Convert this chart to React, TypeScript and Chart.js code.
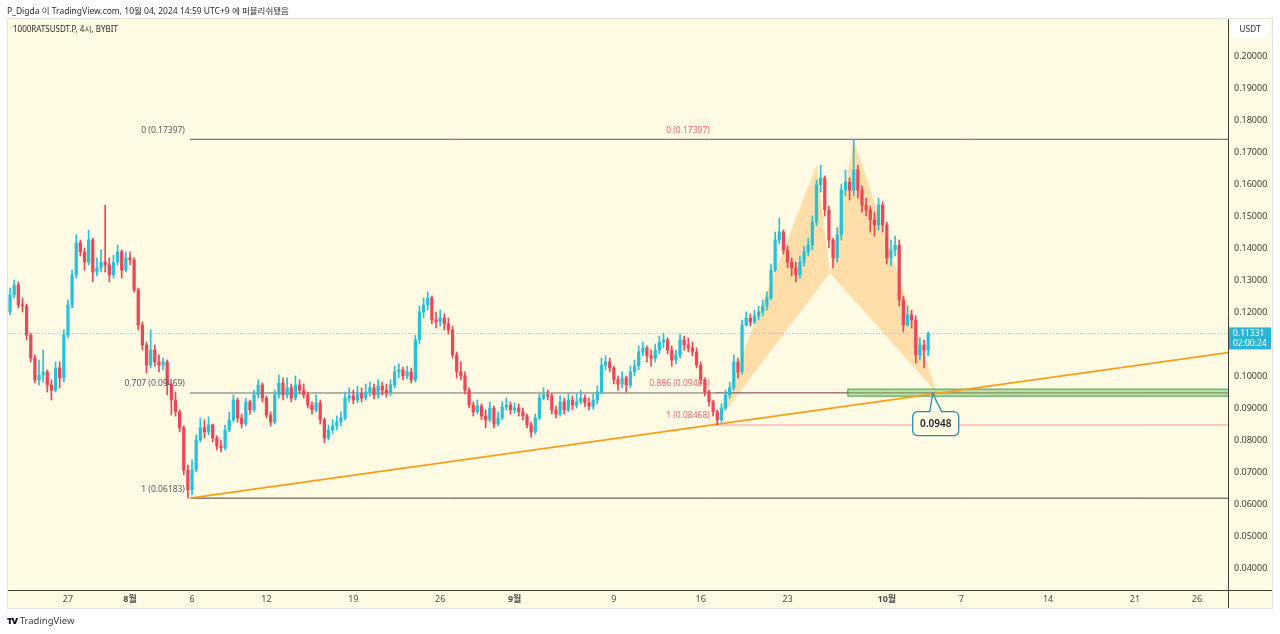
import { useEffect, useRef } from 'react';
import { Chart, registerables } from 'chart.js';

Chart.register(...registerables);

// ---------- data ----------
// x unit: days counted from 2024-08-01 00:00 (UTC+9); one candle = 8 hours
const firstCandleDay = -9.667;
const candleStepDays = 1 / 3;
const firstOpen = 0.12;

const closes = [
  0.1253, 0.1284, 0.1222, 0.1219, 0.1128, 0.1056, 0.0988, 0.1003, 0.1013, 0.0972,
  0.0956, 0.1025, 0.0994, 0.1128, 0.1222, 0.1316, 0.1416, 0.1388, 0.1356, 0.1425,
  0.1325, 0.1338, 0.1356, 0.1347, 0.1316, 0.1356, 0.1388, 0.1331, 0.1369, 0.1363,
  0.1269, 0.1159, 0.1097, 0.1034, 0.1081, 0.1044, 0.1034, 0.1044, 0.0972, 0.0925,
  0.0888, 0.0838, 0.0706, 0.0644, 0.0706, 0.08, 0.0838, 0.0825, 0.0847, 0.0806,
  0.0781, 0.0775, 0.0831, 0.0863, 0.0925, 0.0869, 0.085, 0.0919, 0.0894, 0.0941,
  0.0972, 0.0931, 0.0878, 0.0856, 0.0941, 0.0978, 0.0941, 0.0963, 0.0931, 0.0972,
  0.0956, 0.0941, 0.0909, 0.0894, 0.0916, 0.0863, 0.0806, 0.0831, 0.0844, 0.0856,
  0.0869, 0.0931, 0.0938, 0.0925, 0.0944, 0.0931, 0.095, 0.0963, 0.0941, 0.0969,
  0.0956, 0.0947, 0.0972, 0.1013, 0.1019, 0.1, 0.1013, 0.0988, 0.1113, 0.12,
  0.1222, 0.1244, 0.1175, 0.1169, 0.1181, 0.1163, 0.1144, 0.1066, 0.1013, 0.1,
  0.0956, 0.0909, 0.0888, 0.0906, 0.0875, 0.0863, 0.09, 0.085, 0.0869, 0.0903,
  0.0909, 0.0894, 0.09, 0.0888, 0.0875, 0.0847, 0.0825, 0.0869, 0.0931, 0.0941,
  0.0938, 0.0894, 0.0881, 0.0919, 0.0894, 0.0925, 0.0909, 0.0919, 0.0931, 0.0916,
  0.0906, 0.0925, 0.095, 0.1034, 0.1044, 0.1025, 0.0988, 0.0975, 0.0994, 0.0972,
  0.1013, 0.1031, 0.1075, 0.1088, 0.1063, 0.1056, 0.1081, 0.1106, 0.1113, 0.1081,
  0.105, 0.1066, 0.1113, 0.1097, 0.1088, 0.1075, 0.1034, 0.0988, 0.095, 0.0919,
  0.0888, 0.0863, 0.09, 0.0941, 0.0963, 0.1044, 0.1013, 0.1159, 0.1181, 0.1169,
  0.1188, 0.12, 0.1219, 0.1244, 0.1331, 0.1425, 0.145, 0.1394, 0.1356, 0.1338,
  0.1316, 0.1356, 0.1388, 0.1409, 0.1481, 0.1597, 0.1619, 0.1519, 0.1425, 0.1369,
  0.1441, 0.1581, 0.1606, 0.1581, 0.1644, 0.1581, 0.1534, 0.1519, 0.1488, 0.1472,
  0.1534, 0.1472, 0.1369, 0.1394, 0.1409, 0.1238, 0.1159, 0.1191, 0.1175, 0.1066,
  0.1097, 0.1081, 0.11331,
];

const highs = [
  0.1275, 0.13, 0.1294, 0.1244, 0.1225, 0.1134, 0.1066, 0.105, 0.1081, 0.1019,
  0.0988, 0.1044, 0.1044, 0.1144, 0.1238, 0.1331, 0.1441, 0.1425, 0.14, 0.1456,
  0.1431, 0.1369, 0.1394, 0.1534, 0.1369, 0.1378, 0.1409, 0.1394, 0.1388, 0.1388,
  0.1369, 0.1275, 0.1169, 0.1106, 0.1144, 0.1097, 0.1066, 0.1056, 0.105, 0.0978,
  0.095, 0.0894, 0.0844, 0.0722, 0.0738, 0.0816, 0.0869, 0.0863, 0.0872, 0.085,
  0.0813, 0.08, 0.0847, 0.0888, 0.0941, 0.0931, 0.0881, 0.0931, 0.0925, 0.0956,
  0.0988, 0.0978, 0.0938, 0.0888, 0.0956, 0.1003, 0.0994, 0.0994, 0.0975, 0.1,
  0.0988, 0.0975, 0.095, 0.0919, 0.0941, 0.0925, 0.0869, 0.0847, 0.0863, 0.0875,
  0.0888, 0.095, 0.0963, 0.0956, 0.0969, 0.0963, 0.0975, 0.0981, 0.0975, 0.0988,
  0.0981, 0.0975, 0.0988, 0.1031, 0.1038, 0.1028, 0.1031, 0.1025, 0.1128, 0.1219,
  0.1244, 0.1263, 0.125, 0.12, 0.1206, 0.1194, 0.1181, 0.1156, 0.1075, 0.1044,
  0.1013, 0.0963, 0.0919, 0.0925, 0.0913, 0.0894, 0.0919, 0.0906, 0.0888, 0.0919,
  0.0931, 0.0919, 0.0916, 0.0913, 0.09, 0.0881, 0.0856, 0.0881, 0.0944, 0.0963,
  0.0956, 0.0944, 0.0906, 0.0938, 0.0931, 0.0944, 0.0938, 0.0944, 0.0956, 0.0941,
  0.0931, 0.0944, 0.0969, 0.1056, 0.1063, 0.1056, 0.1031, 0.1, 0.1013, 0.1,
  0.1031, 0.105, 0.1094, 0.1106, 0.1094, 0.1081, 0.11, 0.1125, 0.1134, 0.1119,
  0.1094, 0.1081, 0.1131, 0.1125, 0.1119, 0.1106, 0.1088, 0.1044, 0.0994, 0.0956,
  0.0925, 0.0894, 0.0913, 0.0956, 0.0981, 0.1066, 0.1056, 0.1175, 0.12, 0.1194,
  0.1206, 0.1219, 0.1238, 0.1263, 0.135, 0.145, 0.1494, 0.1456, 0.1406, 0.1369,
  0.1356, 0.1375, 0.1406, 0.1431, 0.15, 0.1613, 0.1659, 0.1625, 0.1531, 0.1431,
  0.1463, 0.16, 0.1644, 0.1619, 0.17397, 0.1659, 0.1594, 0.1556, 0.1531, 0.1512,
  0.1556, 0.1544, 0.1481, 0.1425, 0.1437, 0.1425, 0.125, 0.1219, 0.1206, 0.1188,
  0.1119, 0.1113, 0.1138,
];

const lows = [
  0.1191, 0.1244, 0.1213, 0.12, 0.1113, 0.1044, 0.0978, 0.0972, 0.0981, 0.095,
  0.0925, 0.095, 0.0963, 0.0981, 0.1119, 0.1213, 0.1306, 0.1375, 0.1331, 0.1347,
  0.1294, 0.1313, 0.1325, 0.1325, 0.1294, 0.1306, 0.1347, 0.1306, 0.1325, 0.1347,
  0.1263, 0.1144, 0.1081, 0.1009, 0.1025, 0.1031, 0.1013, 0.1019, 0.0941, 0.0878,
  0.0875, 0.0825, 0.0691, 0.06183, 0.0628, 0.07, 0.0794, 0.0806, 0.0816, 0.0794,
  0.0769, 0.0763, 0.0769, 0.0825, 0.0856, 0.0856, 0.0838, 0.0844, 0.0881, 0.0888,
  0.0931, 0.0919, 0.0869, 0.0844, 0.085, 0.0931, 0.0925, 0.0931, 0.0919, 0.0925,
  0.0944, 0.0931, 0.09, 0.0881, 0.0888, 0.085, 0.0791, 0.08, 0.0819, 0.0831,
  0.0844, 0.0863, 0.0919, 0.0913, 0.0916, 0.0919, 0.0925, 0.0938, 0.0928, 0.0931,
  0.0941, 0.0934, 0.0938, 0.0963, 0.0994, 0.0988, 0.0991, 0.0978, 0.0981, 0.11,
  0.1181, 0.1206, 0.1163, 0.115, 0.1156, 0.1144, 0.1131, 0.1056, 0.0994, 0.0988,
  0.0944, 0.09, 0.0875, 0.0881, 0.0863, 0.0838, 0.0856, 0.0838, 0.0844, 0.0863,
  0.0894, 0.0881, 0.0884, 0.0875, 0.0863, 0.0838, 0.0809, 0.0819, 0.0863, 0.0925,
  0.0925, 0.0881, 0.0869, 0.0875, 0.0881, 0.0888, 0.0894, 0.09, 0.0913, 0.0903,
  0.0894, 0.0897, 0.0913, 0.0944, 0.1019, 0.1013, 0.0975, 0.0956, 0.0963, 0.095,
  0.0963, 0.1, 0.1019, 0.1063, 0.1044, 0.1031, 0.1044, 0.1069, 0.1088, 0.1069,
  0.1031, 0.1038, 0.1056, 0.1081, 0.1075, 0.1063, 0.1025, 0.0975, 0.0938, 0.0906,
  0.0875, 0.08468, 0.0856, 0.0894, 0.0931, 0.0956, 0.0994, 0.1006, 0.1156, 0.1156,
  0.1163, 0.1175, 0.1188, 0.1206, 0.1238, 0.1325, 0.1413, 0.1381, 0.1338, 0.1313,
  0.1294, 0.1306, 0.1344, 0.1375, 0.1394, 0.1469, 0.1575, 0.15, 0.14, 0.1338,
  0.1356, 0.1425, 0.1563, 0.155, 0.1563, 0.1556, 0.1512, 0.15, 0.145, 0.1437,
  0.1456, 0.145, 0.135, 0.1344, 0.1375, 0.1219, 0.1138, 0.1156, 0.115, 0.1041,
  0.105, 0.1025, 0.1063,
];

const xTickDays = [-5, 0, 5, 11, 18, 25, 31, 39, 46, 53, 61, 67, 74, 81, 86];
const xTickLabels = ['27', '8월', '6', '12', '19', '26', '9월', '9', '16', '23', '10월', '7', '14', '21', '26'];
const yTickValues = [0.04, 0.05, 0.06, 0.07, 0.08, 0.09, 0.1, 0.11, 0.12, 0.13, 0.14, 0.15, 0.16, 0.17, 0.18, 0.19, 0.2];

// Fibonacci retracement (gray): anchored on the August low
const grayFibStartDay = 4.83;
const grayFibLevels = [0.17397, 0.09469, 0.06183];
const grayFibLabels = ['0 (0.17397)', '0.707 (0.09469)', '1 (0.06183)'];

// Fibonacci retracement (red): anchored on the September low
const redFibStartDay = 47.14;
const redFibLevels = [0.17397, 0.09485, 0.08468];
const redFibLabels = ['0 (0.17397)', '0.886 (0.09485)', '1 (0.08468)'];

// Trend line
const trendDays = [4.83, 88.5];
const trendPrices = [0.06183, 0.1073];

// Green zone
const zoneStartDay = 57.86;
const zoneTop = 0.0959;
const zoneBottom = 0.0937;

// Harmonic pattern X, A, B, C, D
const patternDays = [47.14, 55.36, 56.41, 58.34, 65.03];
const patternPrices = [0.08468, 0.1659, 0.1322, 0.17397, 0.0948];

// Callout
const calloutDay = 64.7;
const calloutPrice = 0.0948;
const calloutText = '0.0948';

// Current price
const currentPrice = 0.11331;
const currentPriceText = '0.11331';
const countdownText = '02:00:24';

// ---------- view ----------
const X_MIN = -9.833;
const X_MAX = 88.5;
const Y_MIN = 0.033125;
const Y_MAX = 0.21125;
const CREAM = '#fffae3';
const UP = '#27c1d8';
const DOWN = '#ee4659';
const FONT = '"Noto Sans", "Noto Sans CJK KR", sans-serif';

export default function App() {
  const ref = useRef<HTMLCanvasElement>(null);

  useEffect(() => {
    const candleDays = closes.map((_, i) => firstCandleDay + i * candleStepDays);
    const opens = closes.map((_, i) => (i === 0 ? firstOpen : closes[i - 1]));
    const colorOf = (i: number) => (closes[i] >= opens[i] ? UP : DOWN);

    const hLine = (from: number, level: number, color: string, width: number, order: number, dash?: number[]) => ({
      type: 'line' as const,
      data: [{ x: from, y: level }, { x: X_MAX + 5, y: level }],
      borderColor: color,
      borderWidth: width,
      borderDash: dash || [],
      pointRadius: 0,
      fill: false,
      order,
    });

    const P = (k: number) => ({ x: patternDays[k], y: patternPrices[k] });

    const overlay = {
      id: 'overlay',
      beforeDraw(chart: any) {
        const { ctx } = chart;
        ctx.save();
        ctx.fillStyle = '#ffffff';
        ctx.fillRect(0, 0, chart.width, chart.height);
        ctx.fillStyle = CREAM;
        ctx.fillRect(8, 19, 1264, 589);
        ctx.strokeStyle = '#e2e2e2';
        ctx.lineWidth = 1;
        ctx.strokeRect(7.5, 18.5, 1265, 590);
        ctx.restore();
      },
      afterDraw(chart: any) {
        const { ctx, chartArea: a } = chart;
        const xs = chart.scales.x;
        const ys = chart.scales.y;
        ctx.save();
        // axis borders
        ctx.strokeStyle = '#3f3f3f';
        ctx.lineWidth = 1;
        ctx.beginPath();
        ctx.moveTo(a.right + 0.5, 19);
        ctx.lineTo(a.right + 0.5, 608);
        ctx.moveTo(8, a.bottom + 0.5);
        ctx.lineTo(1272, a.bottom + 0.5);
        ctx.stroke();

        // fib labels
        ctx.font = `8.5px ${FONT}`;
        ctx.textAlign = 'right';
        ctx.textBaseline = 'middle';
        const gx = xs.getPixelForValue(grayFibStartDay) - 5;
        grayFibLevels.forEach((lv, k) => {
          ctx.fillStyle = '#55585f';
          ctx.fillText(grayFibLabels[k], gx, ys.getPixelForValue(lv) - 9);
        });
        const rx = xs.getPixelForValue(redFibStartDay) - 5;
        redFibLevels.forEach((lv, k) => {
          ctx.fillStyle = '#f06a72';
          ctx.fillText(redFibLabels[k], rx, ys.getPixelForValue(lv) - 9);
        });

        // callout
        const px = xs.getPixelForValue(calloutDay);
        const py = ys.getPixelForValue(calloutPrice);
        const w = 46, h = 24, r = 5;
        const left = px - 20, top = py + 19;
        const right = left + w, bottom = top + h;
        ctx.beginPath();
        ctx.moveTo(left + r, top);
        ctx.lineTo(px - 3, top);
        ctx.lineTo(px, py + 1);
        ctx.lineTo(px + 9, top);
        ctx.lineTo(right - r, top);
        ctx.arcTo(right, top, right, top + r, r);
        ctx.lineTo(right, bottom - r);
        ctx.arcTo(right, bottom, right - r, bottom, r);
        ctx.lineTo(left + r, bottom);
        ctx.arcTo(left, bottom, left, bottom - r, r);
        ctx.lineTo(left, top + r);
        ctx.arcTo(left, top, left + r, top, r);
        ctx.closePath();
        ctx.fillStyle = CREAM;
        ctx.fill();
        ctx.strokeStyle = '#2a8f9c';
        ctx.lineWidth = 1.3;
        ctx.stroke();
        ctx.fillStyle = '#1d1f24';
        ctx.font = `600 10px ${FONT}`;
        ctx.textAlign = 'center';
        ctx.fillText(calloutText, left + w / 2, top + h / 2 + 0.5);

        // current price label
        const cy = ys.getPixelForValue(currentPrice);
        ctx.fillStyle = '#2ab5d4';
        ctx.fillRect(a.right + 1, cy - 6, 42, 22);
        ctx.fillStyle = '#ffffff';
        ctx.font = `8.5px ${FONT}`;
        ctx.textAlign = 'left';
        ctx.fillText(currentPriceText, a.right + 5, cy + 0.5);
        ctx.fillText(countdownText, a.right + 5, cy + 10);

        // currency box
        ctx.fillStyle = '#ffffff';
        ctx.fillRect(a.right + 3, 20, 38, 18);
        ctx.fillStyle = '#333';
        ctx.textAlign = 'center';
        ctx.fillText('USDT', a.right + 22, 29.5);
        ctx.restore();
      },
    };

    const chart = new Chart(ref.current as HTMLCanvasElement, {
      type: 'bar',
      data: {
        datasets: [
          {
            type: 'bar',
            data: candleDays.map((d, i) => ({ x: d, y: [opens[i], closes[i]] })) as any,
            backgroundColor: (c: any) => colorOf(c.dataIndex),
            barThickness: 2.6,
            minBarLength: 1,
            grouped: false,
            order: 0,
          },
          {
            type: 'bar',
            data: candleDays.map((d, i) => ({ x: d, y: [lows[i], highs[i]] })) as any,
            backgroundColor: (c: any) => colorOf(c.dataIndex),
            barThickness: 1,
            grouped: false,
            order: 1,
          },
          {
            type: 'line',
            data: [P(0), P(1), P(2)],
            borderWidth: 0,
            pointRadius: 0,
            backgroundColor: 'rgba(255,165,50,0.32)',
            fill: 'shape',
            order: 9,
          } as any,
          {
            type: 'line',
            data: [P(2), P(3), P(4)],
            borderWidth: 0,
            pointRadius: 0,
            backgroundColor: 'rgba(255,165,50,0.32)',
            fill: 'shape',
            order: 9,
          } as any,
          {
            type: 'line',
            data: [
              { x: zoneStartDay, y: zoneTop },
              { x: X_MAX + 5, y: zoneTop },
              { x: X_MAX + 5, y: zoneBottom },
              { x: zoneStartDay, y: zoneBottom },
              { x: zoneStartDay, y: zoneTop },
            ],
            borderColor: '#43a047',
            borderWidth: 1,
            pointRadius: 0,
            backgroundColor: 'rgba(120,200,110,0.5)',
            fill: 'shape',
            order: 4,
          } as any,
          hLine(redFibStartDay, redFibLevels[1], '#f28a90', 1, 8),
          hLine(redFibStartDay, redFibLevels[2], '#f49aa0', 1, 8),
          hLine(grayFibStartDay, grayFibLevels[0], '#5a5a5a', 1, 7),
          hLine(grayFibStartDay, grayFibLevels[1], '#6b6b6b', 1, 7),
          hLine(grayFibStartDay, grayFibLevels[2], '#3e3e3e', 1, 7),
          hLine(X_MIN - 5, currentPrice, 'rgba(40,190,215,0.6)', 1, 6, [1, 2]),
          {
            type: 'line',
            data: [
              { x: trendDays[0], y: trendPrices[0] },
              { x: trendDays[1], y: trendPrices[1] },
            ],
            borderColor: '#f6a01a',
            borderWidth: 1.6,
            pointRadius: 0,
            fill: false,
            order: 3,
          },
        ] as any,
      },
      options: {
        animation: false,
        responsive: false,
        maintainAspectRatio: false,
        events: [],
        layout: { padding: { left: 8, top: 20, right: 8, bottom: 26 } },
        plugins: { legend: { display: false }, tooltip: { enabled: false } },
        scales: {
          x: {
            type: 'linear',
            min: X_MIN,
            max: X_MAX,
            offset: false,
            grid: { display: false, drawTicks: false },
            border: { display: false },
            afterBuildTicks: (s: any) => {
              s.ticks = xTickDays.map((v) => ({ value: v }));
            },
            afterFit: (s: any) => {
              s.height = 18;
            },
            ticks: {
              autoSkip: false,
              maxRotation: 0,
              padding: 4,
              color: '#4a4a4a',
              font: (c: any) => ({
                family: FONT,
                size: 9,
                weight: xTickLabels[c.index] && xTickLabels[c.index].includes('월') ? 'bold' : 'normal',
              }),
              callback: (_v: any, i: number) => xTickLabels[i],
            },
          },
          y: {
            type: 'linear',
            position: 'right',
            min: Y_MIN,
            max: Y_MAX,
            grid: { display: false, drawTicks: false },
            border: { display: false },
            afterBuildTicks: (s: any) => {
              s.ticks = yTickValues.map((v) => ({ value: v }));
            },
            afterFit: (s: any) => {
              s.width = 44;
            },
            ticks: {
              padding: 6,
              color: '#3a3a3a',
              font: { family: FONT, size: 9 },
              callback: (v: any) => Number(v).toFixed(5),
            },
          },
        },
      } as any,
      plugins: [overlay],
    });
    return () => chart.destroy();
  }, []);

  return (
    <div
      style={{
        position: 'fixed',
        left: 0,
        top: 0,
        width: 1280,
        height: 634,
        background: '#ffffff',
        overflow: 'hidden',
      }}
    >
      <canvas
        ref={ref}
        width={1280}
        height={634}
        style={{ position: 'absolute', left: 0, top: 0, width: 1280, height: 634 }}
      />
      <div
        style={{
          position: 'absolute',
          left: 7,
          top: 4,
          font: `8.5px ${FONT}`,
          color: '#2b2b2b',
          whiteSpace: 'nowrap',
        }}
      >
        P_Digda 이 TradingView.com, 10월 04, 2024 14:59 UTC+9 에 퍼블리쉬됐음
      </div>
      <div
        style={{
          position: 'absolute',
          left: 13,
          top: 23,
          font: `8px ${FONT}`,
          color: '#2b2b2b',
          whiteSpace: 'nowrap',
        }}
      >
        1000RATSUSDT.P, 4시, BYBIT
      </div>
      <div
        style={{
          position: 'absolute',
          left: 7,
          top: 614,
          font: `9.5px ${FONT}`,
          color: '#3a3a3a',
          whiteSpace: 'nowrap',
        }}
      >
        <span style={{ fontWeight: 900, letterSpacing: -1, color: '#131722' }}>TV</span> TradingView
      </div>
    </div>
  );
}
